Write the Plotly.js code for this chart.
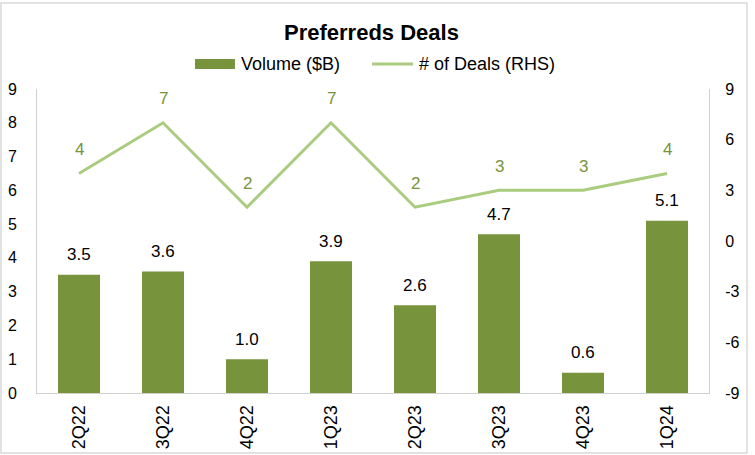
<!DOCTYPE html>
<html>
<head>
<meta charset="utf-8">
<script src="https://cdn.plot.ly/plotly-3.0.1.min.js"></script>
<style>
html,body{margin:0;padding:0;background:#fff;}
#chart{width:755px;height:455px;}
</style>
</head>
<body>
<div id="chart"></div>
<script>
const quarters = ["2Q22","3Q22","4Q22","1Q23","2Q23","3Q23","4Q23","1Q24"];
const volume = [3.5, 3.6, 1.0, 3.9, 2.6, 4.7, 0.6, 5.1];
const deals = [4, 7, 2, 7, 2, 3, 3, 4];
const leftTicks = [0,1,2,3,4,5,6,7,8,9];
const rightTicks = [-9,-6,-3,0,3,6,9];
const rightTickText = ["-9","-6","-3","0","3","6","9"];

const barColor = "#77933C";
const lineColor = "#A9CC7E";
const FONT = "Liberation Sans, Arial, sans-serif";

const barTrace = {
  type: "bar",
  name: "Volume ($B)",
  x: quarters,
  y: volume,
  marker: {color: barColor},
  width: 0.5,
  yaxis: "y",
  showlegend: false
};
const lineTrace = {
  type: "scatter",
  mode: "lines",
  name: "# of Deals (RHS)",
  x: quarters,
  y: deals,
  line: {color: lineColor, width: 3},
  yaxis: "y2",
  showlegend: false
};

const annotations = [];
quarters.forEach((q, i) => {
  annotations.push({
    xref: "x", yref: "y", x: q, y: volume[i],
    text: volume[i].toFixed(1), showarrow: false,
    yanchor: "middle", yshift: 20,
    font: {family: FONT, size: 17, color: "#000"}
  });
  annotations.push({
    xref: "x", yref: "y2", x: q, y: deals[i],
    text: String(deals[i]), showarrow: false,
    yanchor: "middle", yshift: 24,
    font: {family: FONT, size: 17, color: barColor}
  });
});
// legend texts
annotations.push({xref: "paper", yref: "paper", x: 0.3006, y: 1.0822, xanchor: "left", yanchor: "middle",
  text: "Volume ($B)", showarrow: false, font: {family: FONT, size: 18, color: "#000"}});
annotations.push({xref: "paper", yref: "paper", x: 0.5655, y: 1.0822, xanchor: "left", yanchor: "middle",
  text: "# of Deals (RHS)", showarrow: false, font: {family: FONT, size: 18, color: "#000"}});

const layout = {
  width: 755, height: 455,
  margin: {l: 37, r: 46, t: 89, b: 62},
  paper_bgcolor: "#fff",
  plot_bgcolor: "#fff",
  font: {family: FONT, size: 16, color: "#000"},
  title: {text: "<b>Preferreds Deals</b>", font: {family: FONT, size: 22, color: "#000"}, x: 0.492, xanchor: "center", y: 0.93, yanchor: "middle"},
  showlegend: false,
  xaxis: {
    type: "category",
    tickangle: -90,
    showline: true, linecolor: "#D0D0D0", linewidth: 1,
    ticks: "", showgrid: false,
    tickfont: {size: 18},
    ticklabelstandoff: 4
  },
  yaxis: {
    range: [0, 9],
    tickvals: leftTicks,
    showline: true, linecolor: "#D0D0D0", linewidth: 1,
    showgrid: false, zeroline: false, ticks: "",
    tickfont: {size: 16},
    ticklabelstandoff: 16
  },
  yaxis2: {
    range: [-9, 9],
    tickvals: rightTicks,
    ticktext: rightTickText,
    overlaying: "y", side: "right",
    showline: true, linecolor: "#D0D0D0", linewidth: 1,
    showgrid: false, zeroline: false, ticks: "",
    tickfont: {size: 16},
    ticklabelstandoff: 12
  },
  annotations: annotations,
  shapes: [
    {type: "rect", xref: "paper", yref: "paper", x0: -0.0536, x1: 1.0565, y0: -0.197, y1: 1.283, line: {color: "#D9D9D9", width: 1.5}},
    {type: "rect", xref: "paper", yref: "paper", x0: 0.2351, x1: 0.2946, y0: 1.0658, y1: 1.0987, line: {width: 0}, fillcolor: barColor},
    {type: "line", xref: "paper", yref: "paper", x0: 0.4985, x1: 0.5595, y0: 1.0822, y1: 1.0822, line: {color: lineColor, width: 3}}
  ]
};

Plotly.newPlot("chart", [barTrace, lineTrace], layout, {displayModeBar: false, staticPlot: true});
</script>
</body>
</html>
